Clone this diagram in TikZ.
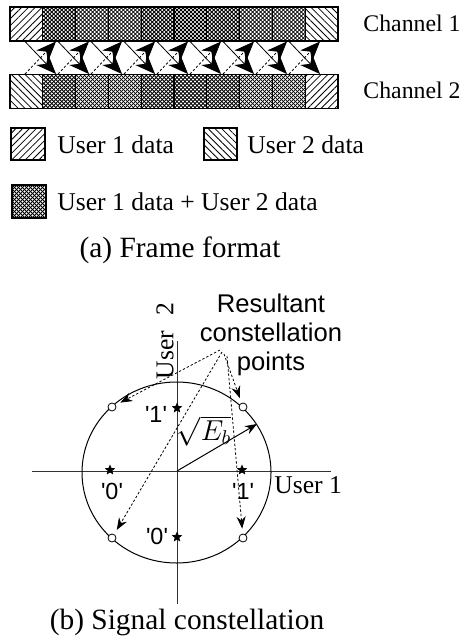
\documentclass[tikz,border=0pt]{standalone}
\usepackage{fontspec}
\setmainfont{Liberation Serif}
\newfontfamily\arialfont{Liberation Sans}
\usetikzlibrary{patterns.meta,arrows.meta,shapes.geometric}
% box holding both users' data: fine cross hatch
\newcommand{\mixbox}[4]{%
  \begin{scope}
    \clip (#1,#2) rectangle (#3,#4);
    \foreach \k in {-10,...,10} {
      \draw[hatchline] ({#1+4*\k},#2) -- ++(40,40);
      \draw[hatchline] ({#1+4*\k},#4) -- ++(40,-40);
    }
  \end{scope}
  \draw[line width=0.6pt] (#1,#2) rectangle (#3,#4);}
\begin{document}
\begin{tikzpicture}[x=0.5pt,y=-0.5pt,
    userone/.style={draw,line width=0.6pt,pattern={Lines[angle=45,distance=2.4pt,line width=0.4pt]}},
    usertwo/.style={draw,line width=0.6pt,pattern={Lines[angle=-45,distance=2.4pt,line width=0.4pt]}},
    hatchline/.style={line width=0.4pt},
    chan/.style={font=\fontsize{11.9}{14}\selectfont,inner sep=0pt},
    legtxt/.style={font=\fontsize{12.8}{15}\selectfont,inner sep=0pt},
    capt/.style={font=\fontsize{14.7}{17}\selectfont,inner sep=0pt},
    lbl/.style={font=\arialfont\fontsize{11.7}{14}\selectfont,inner sep=0pt},
    symb/.style={star,star points=5,star point ratio=2.2,fill,inner sep=0pt,minimum size=5.5pt},
    ring/.style={circle,draw,fill=white,line width=0.4pt,inner sep=0pt,minimum size=4pt},
    bigtip/.style={-{Stealth[length=10pt,width=8pt,inset=3pt]}},
    ptr/.style={line width=0.4pt,dash pattern=on 1.2pt off 1pt,-{Stealth[length=6pt,width=4.5pt]},shorten >=2.5pt}]
\path[use as bounding box] (0,0) rectangle (472,640);

% (a) frame format
\draw[userone] (10,7) rectangle ++(32.8,34);
\draw[usertwo] (10,74.5) rectangle ++(32.8,34);
\foreach \i in {1,...,8} {
    \mixbox{10+32.8*\i}{7}{42.8+32.8*\i}{41}
    \mixbox{10+32.8*\i}{74.5}{42.8+32.8*\i}{108.5}
}
\draw[usertwo] (305.2,7) rectangle ++(32.8,34);
\draw[userone] (305.2,74.5) rectangle ++(32.8,34);
\foreach \i in {0,...,8} {
    \draw[line width=0.4pt,bigtip] ({25+33*\i},41.5) -- ({56+33*\i},74);
    \draw[line width=0.4pt,dash pattern=on 1.2pt off 1pt,bigtip] ({25+33*\i},74) -- ({56+33*\i},41.5);
}
\node[chan,anchor=west] (ch1) at (363,23) {Channel 1};
\node[chan,anchor=west] (ch2) at (363,90) {Channel 2};

\draw[userone] (11,128) rectangle (45,160);
\node[legtxt,anchor=base west] (l1) at (57,154) {User 1 data};
\draw[usertwo] (204,128) rectangle (237,160);
\node[legtxt,anchor=base west] (l2) at (247,154) {User 2 data};
\mixbox{12}{185}{46}{218}
\node[legtxt,anchor=base west] (l3) at (57,211) {User 1 data + User 2 data};
\node[capt,anchor=base] (capa) at (180,258) {(a) Frame format};

% (b) signal constellation
\coordinate (o) at (177,471);
\draw[line width=0.5pt,black!80] (32,471) -- (331,471);
\draw[line width=0.5pt,black!80] (177,341) -- (177,604);
\draw[line width=0.5pt] (176.5,472.5) ellipse [x radius=94.5, y radius=90.5];
\node[legtxt,anchor=west] (u1) at (274,485) {User 1};
\node[legtxt,rotate=90] (u2) at (165,341) {User\hspace{0.6em}2};

\node[symb] (s1) at (177,408) {};
\node[symb] (s2) at (110,470) {};
\node[symb] (s3) at (242,470) {};
\node[symb] (s4) at (177,537) {};
\node[lbl] at (156,414) {\textquotesingle 1\textquotesingle};
\node[lbl] at (112,491) {\textquotesingle 0\textquotesingle};
\node[lbl] at (243,491) {\textquotesingle 1\textquotesingle};
\node[lbl] at (157,536) {\textquotesingle 0\textquotesingle};

\node[ring] (pul) at (112,407) {};
\node[ring] (pur) at (243,407) {};
\node[ring] (pll) at (112,538) {};
\node[ring] (plr) at (243,538) {};

\coordinate (eb) at (257,424);
\draw[line width=0.5pt,-{Stealth[length=6pt,width=4.5pt]}] (o) -- (eb);
\node[font=\fontsize{14}{16}\selectfont,inner sep=0pt] (sq) at (204,431) {$\sqrt{E_b}$};

\node[font=\arialfont\fontsize{12.8}{14.5}\selectfont,align=center,anchor=north,inner sep=0pt] (res) at (271,294) {Resultant\\constellation\\points};
\coordinate (src1) at (220,350);
\coordinate (src2) at (222,352);
\coordinate (src3) at (224,354);
\coordinate (src4) at (227,356);
\draw[ptr] (src1) -- (pul);
\draw[ptr] (src2) -- (pll);
\draw[ptr] (src3) -- (pur);
\draw[ptr] (src4) -- (plr);

\node[capt,anchor=base] (capb) at (187,629) {(b) Signal constellation};
\end{tikzpicture}
\end{document}
